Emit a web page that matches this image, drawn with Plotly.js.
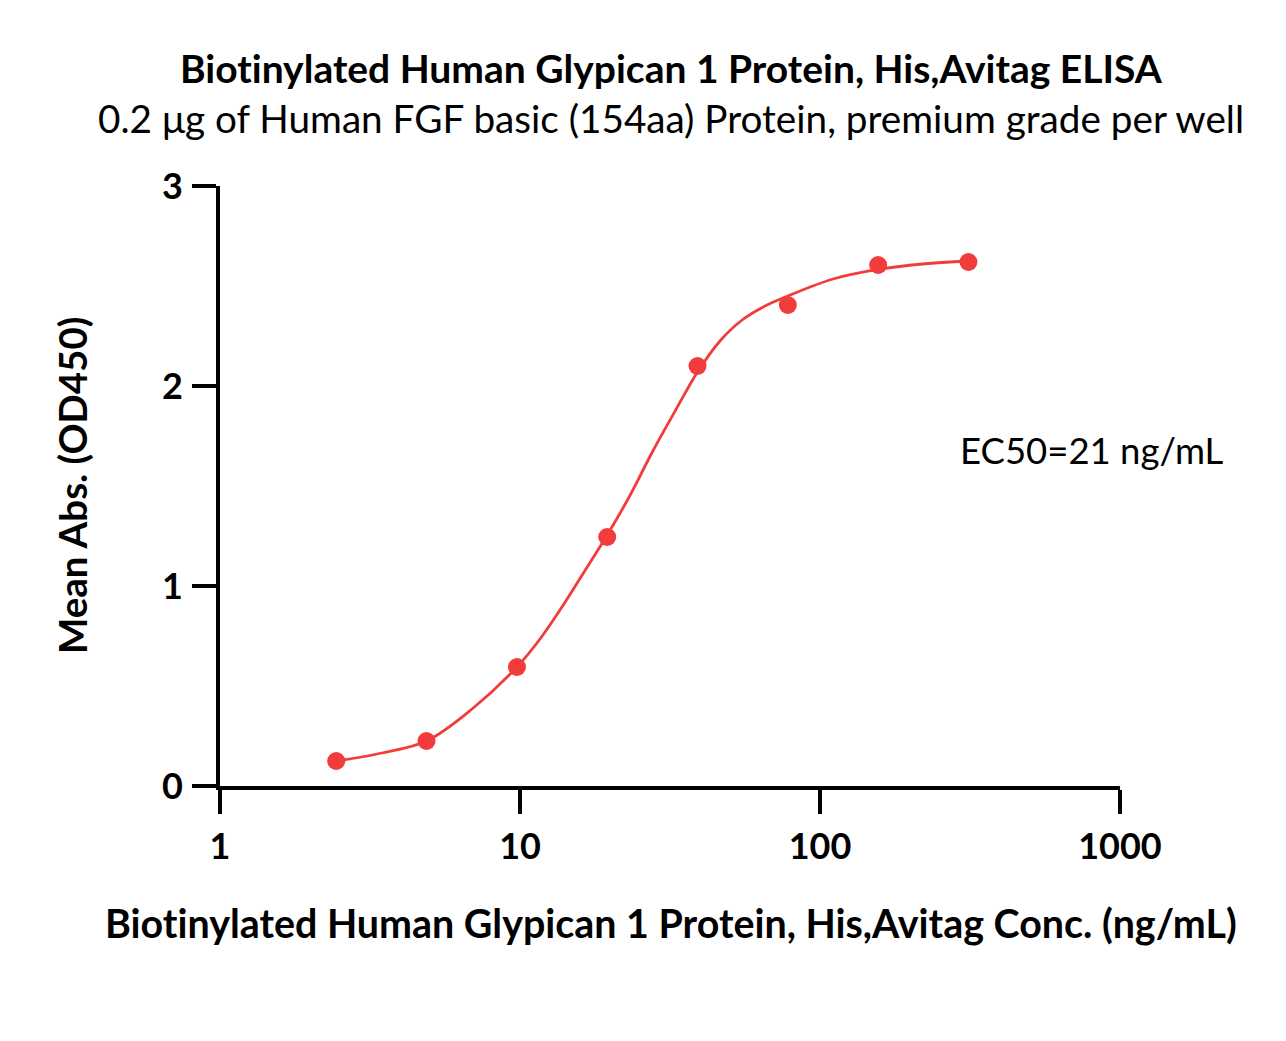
<!DOCTYPE html>
<html>
<head>
<meta charset="utf-8">
<script src="https://cdn.plot.ly/plotly-3.0.1.min.js"></script>
<style>html,body{margin:0;padding:0;background:#fff;}#chart{width:1286px;height:1041px;}svg text{font-variant-ligatures:none;font-feature-settings:"liga" 0;}</style>
</head>
<body>
<div id="chart"></div>
<script>
// Measured points
const concentration = [2.44, 4.88, 9.77, 19.53, 39.06, 78.13, 156.25, 312.5];
const meanAbs = [0.125, 0.225, 0.595, 1.245, 2.10, 2.405, 2.605, 2.62];
// Fitted curve
const curveX = [2.44, 3.47, 4.88, 6.92, 9.77, 11.66, 13.8, 16.35, 19.53, 23.3, 27.5, 32.9, 39.06, 46.4, 55, 65.6, 78.13, 110.5, 156.25, 220, 312.5];
const curveY = [0.125, 0.165, 0.225, 0.385, 0.595, 0.735, 0.895, 1.07, 1.255, 1.455, 1.665, 1.875, 2.07, 2.225, 2.33, 2.40, 2.45, 2.535, 2.583, 2.61, 2.625];
const xTickVals = [1, 10, 100, 1000];
const xTickText = ['1', '10', '100', '1000'];
const yTickVals = [0, 1, 2, 3];

const red = '#f23b3b';
const FONT = 'Lato, "Open Sans", sans-serif';

const traces = [
  {x: curveX, y: curveY, type: 'scatter', mode: 'lines', line: {color: red, width: 2.8, shape: 'spline', smoothing: 1}, hoverinfo: 'skip'},
  {x: concentration, y: meanAbs, type: 'scatter', mode: 'markers', marker: {color: red, size: 18}}
];

const layout = {
  width: 1286, height: 1041,
  margin: {l: 220, r: 166, t: 186, b: 255},
  paper_bgcolor: '#fff', plot_bgcolor: '#fff',
  showlegend: false,
  font: {family: FONT, color: '#000'},
  xaxis: {
    type: 'log', range: [0, 3], tickvals: xTickVals, ticktext: xTickText,
    showline: true, linewidth: 4, linecolor: '#000', mirror: false,
    ticks: 'outside', ticklen: 24, tickwidth: 4, tickcolor: '#000',
    showgrid: false, zeroline: false,
    tickfont: {family: FONT, size: 36, color: '#000', weight: 'bold'},
    ticklabelstandoff: 2
  },
  yaxis: {
    range: [0, 3], tickvals: yTickVals,
    showline: true, linewidth: 4, linecolor: '#000',
    ticks: 'outside', ticklen: 24, tickwidth: 4, tickcolor: '#000',
    showgrid: false, zeroline: false,
    tickfont: {family: FONT, size: 36, color: '#000', weight: 'bold'},
    ticklabelstandoff: 2
  },
  annotations: [
    {xref: 'paper', yref: 'paper', x: 0.5013, y: 1.1966, text: '<b>Biotinylated Human Glypican 1 Protein, His,Avitag ELISA</b>', showarrow: false, xanchor: 'center', yanchor: 'middle', font: {family: FONT, size: 39, color: '#000'}},
    {xref: 'paper', yref: 'paper', x: 0.5013, y: 1.1133, text: '0.2 μg of Human FGF basic (154aa) Protein, premium grade per well', showarrow: false, xanchor: 'center', yanchor: 'middle', font: {family: FONT, size: 38.7, color: '#000'}},
    {xref: 'paper', yref: 'paper', x: 0.5013, y: -0.2267, text: '<b>Biotinylated Human Glypican 1 Protein, His,Avitag Conc. (ng/mL)</b>', showarrow: false, xanchor: 'center', yanchor: 'middle', font: {family: FONT, size: 39.4, color: '#000'}},
    {xref: 'paper', yref: 'paper', x: -0.1644, y: 0.5, text: '<b>Mean Abs. (OD450)</b>', textangle: -90, showarrow: false, xanchor: 'center', yanchor: 'middle', font: {family: FONT, size: 38.5, color: '#000'}},
    {xref: 'paper', yref: 'paper', x: 0.82, y: 0.56, text: 'EC50=21 ng/mL', showarrow: false, xanchor: 'left', yanchor: 'middle', font: {family: FONT, size: 36.5, color: '#000'}}
  ]
};

Plotly.newPlot('chart', traces, layout, {displayModeBar: false, staticPlot: true});
</script>
</body>
</html>
